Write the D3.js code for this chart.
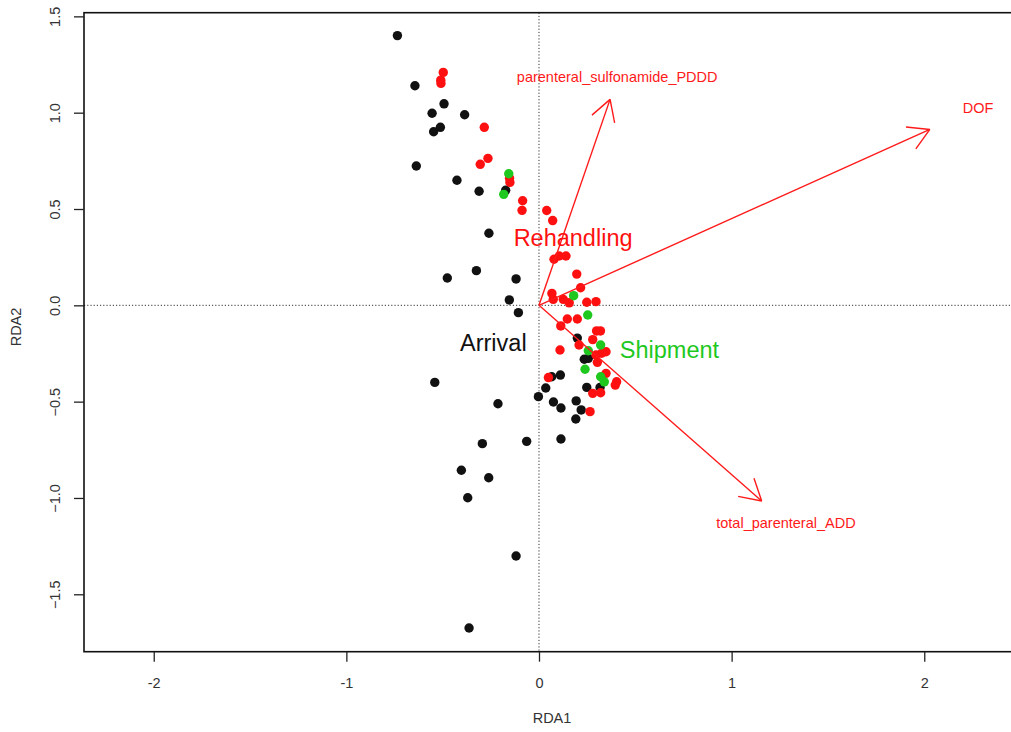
<!DOCTYPE html>
<html>
<head>
<meta charset="utf-8">
<title>RDA biplot</title>
<script src="https://d3js.org/d3.v7.min.js"></script>
<style>
  body { margin: 0; background: #fff; }
  text { font-family: "Liberation Sans", Arial, sans-serif; }
</style>
</head>
<body>
<script>
// site scores (RDA1, RDA2)
var arrival = [
  [-0.735, 1.400], [-0.644, 1.140], [-0.493, 1.046], [-0.555, 0.997], [-0.386, 0.989],
  [-0.512, 0.924], [-0.547, 0.901], [-0.637, 0.723], [-0.426, 0.649], [-0.311, 0.592],
  [-0.173, 0.597], [-0.260, 0.374], [-0.325, 0.180], [-0.476, 0.142], [-0.119, 0.137],
  [-0.154, 0.028], [-0.107, -0.038], [-0.541, -0.400], [0.199, -0.170], [0.235, -0.280],
  [0.256, -0.275], [0.066, -0.371], [0.111, -0.362], [0.035, -0.429], [-0.003, -0.474],
  [0.248, -0.426], [0.317, -0.426], [0.075, -0.502], [0.114, -0.533], [0.193, -0.496],
  [0.219, -0.543], [0.191, -0.590], [-0.213, -0.511], [-0.294, -0.718], [-0.064, -0.706],
  [0.114, -0.694], [-0.403, -0.856], [-0.261, -0.895], [-0.370, -0.999], [-0.119, -1.301],
  [-0.363, -1.675]
];
var rehandling = [
  [-0.497, 1.209], [-0.510, 1.169], [-0.509, 1.152], [-0.284, 0.924], [-0.265, 0.763],
  [-0.305, 0.732], [-0.151, 0.638], [-0.153, 0.660], [-0.085, 0.543], [-0.088, 0.493],
  [0.040, 0.492], [0.071, 0.440], [0.078, 0.239], [0.105, 0.256], [0.140, 0.256],
  [0.196, 0.162], [0.216, 0.091], [0.067, 0.062], [0.074, 0.031], [0.126, 0.031],
  [0.157, 0.013], [0.248, 0.016], [0.296, 0.019], [0.147, -0.071], [0.199, -0.071],
  [0.113, -0.107], [0.299, -0.133], [0.319, -0.133], [0.279, -0.178], [0.208, -0.206],
  [0.109, -0.232], [0.296, -0.258], [0.325, -0.249], [0.348, -0.241], [0.303, -0.296],
  [0.348, -0.353], [0.403, -0.397], [0.396, -0.414], [0.049, -0.375], [0.279, -0.457],
  [0.320, -0.454], [0.265, -0.552]
];
var shipment = [
  [-0.157, 0.683], [-0.183, 0.576], [0.180, 0.050], [0.253, -0.050], [0.320, -0.206],
  [0.256, -0.236], [0.239, -0.332], [0.320, -0.371], [0.339, -0.397]
];

// biplot arrows for the explanatory variables, and where their names sit
var envNames = ["parenteral_sulfonamide_PDDD", "DOF", "total_parenteral_ADD"];
var envRDA1 = [0.369, 2.029, 1.156];
var envRDA2 = [1.069, 0.913, -1.016];
var envLabelRDA1 = [0.406, 2.279, 1.282];
var envLabelRDA2 = [1.185, 1.024, -1.128];

// group label positions
var groupNames = ["Arrival", "Rehandling", "Shipment"];
var groupRDA1 = [-0.237, 0.177, 0.677];
var groupRDA2 = [-0.196, 0.35, -0.232];
var groupColors = ["#111111", "#ff1010", "#1ec81e"];

var xTicks = [-2, -1, 0, 1, 2];
var xTickLabels = ["-2", "-1", "0", "1", "2"];
var yTicks = [-1.5, -1, -0.5, 0, 0.5, 1, 1.5];
var yTickLabels = ["\u22121.5", "\u22121.0", "\u22120.5", "0.0", "0.5", "1.0", "1.5"];

var W = 1011, H = 732;
var pLeft = 84, pRight = 1020, pTop = 12.7, pBottom = 651.7;

var svg = d3.select("body").append("svg")
    .attr("width", W).attr("height", H);

var x = d3.scaleLinear().domain([-2.362, 2.497]).range([pLeft, pRight]);
var y = d3.scaleLinear().domain([-1.798, 1.519]).range([pBottom, pTop]);

// zero lines
svg.append("line")
    .attr("x1", pLeft).attr("x2", pRight).attr("y1", y(0)).attr("y2", y(0))
    .attr("stroke", "#333").attr("stroke-width", 1).attr("stroke-dasharray", "1.2,2");
svg.append("line")
    .attr("x1", x(0)).attr("x2", x(0)).attr("y1", pTop).attr("y2", pBottom)
    .attr("stroke", "#333").attr("stroke-width", 1).attr("stroke-dasharray", "1.2,2");

// points
var groups = [arrival, rehandling, shipment];
groups.forEach(function(pts, i) {
  svg.append("g").selectAll("circle")
    .data(pts).enter().append("circle")
    .attr("cx", function(d) { return x(d[0]); })
    .attr("cy", function(d) { return y(d[1]); })
    .attr("r", 4.7)
    .attr("fill", groupColors[i]);
});

// arrows
var red = "#ff1a1a";
var ag = svg.append("g");
envNames.forEach(function(name, i) {
  var x0 = x(0), y0 = y(0), x1 = x(envRDA1[i]), y1 = y(envRDA2[i]);
  ag.append("line")
    .attr("x1", x0).attr("y1", y0).attr("x2", x1).attr("y2", y1)
    .attr("stroke", red).attr("stroke-width", 1.4);
  var ang = Math.atan2(y1 - y0, x1 - x0), len = 24;
  [-Math.PI / 6, Math.PI / 6].forEach(function(a) {
    ag.append("line")
      .attr("x1", x1).attr("y1", y1)
      .attr("x2", x1 - len * Math.cos(ang + a))
      .attr("y2", y1 - len * Math.sin(ang + a))
      .attr("stroke", red).attr("stroke-width", 1.4);
  });
  ag.append("text")
    .attr("x", x(envLabelRDA1[i])).attr("y", y(envLabelRDA2[i]))
    .attr("text-anchor", "middle").attr("dominant-baseline", "central")
    .attr("font-size", "14.5px").attr("fill", red)
    .text(name);
});

// group labels
groupNames.forEach(function(name, i) {
  svg.append("text")
    .attr("x", x(groupRDA1[i])).attr("y", y(groupRDA2[i]))
    .attr("text-anchor", "middle").attr("dominant-baseline", "central")
    .attr("font-size", "23.5px").attr("fill", groupColors[i])
    .text(name);
});

// box
svg.append("rect")
    .attr("x", pLeft).attr("y", pTop)
    .attr("width", pRight - pLeft).attr("height", pBottom - pTop)
    .attr("fill", "none").attr("stroke", "#111").attr("stroke-width", 1.6);

// axes
var xAxis = svg.append("g")
    .attr("transform", "translate(0," + pBottom + ")")
    .call(d3.axisBottom(x).tickValues(xTicks).tickSize(10).tickPadding(16)
      .tickFormat(function(d, i) { return xTickLabels[i]; }));
var yAxis = svg.append("g")
    .attr("transform", "translate(" + pLeft + ",0)")
    .call(d3.axisLeft(y).tickValues(yTicks).tickSize(10).tickPadding(0)
      .tickFormat(function(d, i) { return yTickLabels[i]; }));
[xAxis, yAxis].forEach(function(a) {
  a.select(".domain").remove();
  a.selectAll("line").attr("stroke", "#222").attr("stroke-width", 1.3);
  a.selectAll("text").attr("font-size", "14.5px").attr("fill", "#333")
    .attr("font-family", "'Liberation Sans', Arial, sans-serif");
});
yAxis.selectAll("text")
    .attr("x", null).attr("dy", null)
    .attr("text-anchor", "middle").attr("dominant-baseline", "central")
    .attr("transform", "translate(-29,0) rotate(-90)");

svg.append("text")
    .attr("x", (pLeft + pRight) / 2).attr("y", 718)
    .attr("text-anchor", "middle").attr("dominant-baseline", "central")
    .attr("font-size", "14.5px").attr("fill", "#333").text("RDA1");
svg.append("text")
    .attr("transform", "translate(16,327) rotate(-90)")
    .attr("text-anchor", "middle").attr("dominant-baseline", "central")
    .attr("font-size", "14.5px").attr("fill", "#333").text("RDA2");
</script>
</body>
</html>
